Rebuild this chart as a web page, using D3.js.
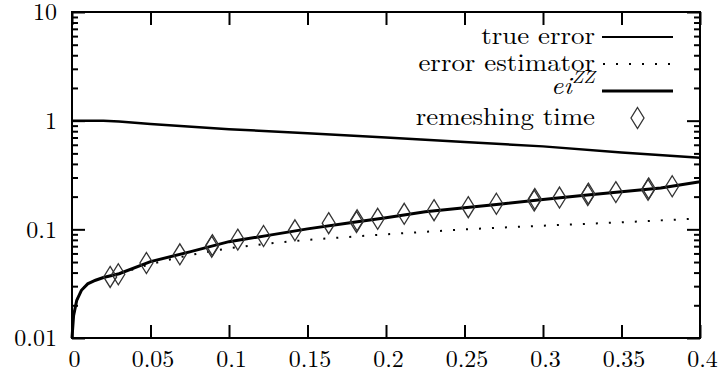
<!DOCTYPE html>
<html>
<head>
<meta charset="utf-8">
<script src="https://cdn.jsdelivr.net/npm/d3@7"></script>
<style>
  body { margin: 0; background: #fff; }
</style>
</head>
<body>
<script>
// error vs time, log scale (gnuplot look)

// --- data ---
const trueErrT   = [0, 0.02, 0.03, 0.05, 0.1, 0.15, 0.2, 0.25, 0.3, 0.35, 0.4];
const trueErrVal = [1.0, 1.0, 0.985, 0.93, 0.835, 0.765, 0.70, 0.637, 0.58, 0.51, 0.455];

const zzT   = [0, 0.001, 0.003, 0.006, 0.01, 0.015, 0.02, 0.03, 0.05, 0.075, 0.1, 0.125, 0.15, 0.175, 0.2, 0.225, 0.25, 0.275, 0.3, 0.325, 0.35, 0.375, 0.4];
const zzVal = [0.01, 0.016, 0.0222, 0.0275, 0.0315, 0.034, 0.036, 0.039, 0.0505, 0.062, 0.077, 0.088, 0.101, 0.114, 0.128, 0.145, 0.158, 0.172, 0.188, 0.205, 0.222, 0.24, 0.274];

const estT   = [0, 0.001, 0.003, 0.006, 0.01, 0.015, 0.02, 0.03, 0.05, 0.075, 0.1, 0.125, 0.15, 0.2, 0.25, 0.3, 0.35, 0.4];
const estVal = [0.01, 0.016, 0.0222, 0.0275, 0.0315, 0.034, 0.036, 0.039, 0.048, 0.058, 0.067, 0.074, 0.080, 0.090, 0.100, 0.108, 0.116, 0.126];

// remeshing times (some are drawn twice, slightly apart)
const remeshT   = [0.0243, 0.0295, 0.0474, 0.0687, 0.0890, 0.0894, 0.1056, 0.122, 0.142, 0.1635, 0.1812, 0.1816, 0.1947, 0.2116, 0.2306, 0.2524, 0.2703, 0.2944, 0.2948, 0.3105, 0.3285, 0.3289, 0.3464, 0.3669, 0.3673, 0.3823];
const remeshVal = [0.0365, 0.0386, 0.049, 0.0589, 0.0692, 0.0715, 0.0804, 0.0868, 0.098, 0.114, 0.117, 0.121, 0.125, 0.139, 0.150, 0.160, 0.172, 0.184, 0.190, 0.196, 0.207, 0.213, 0.220, 0.231, 0.238, 0.249];

const xTicks = [0, 0.05, 0.1, 0.15, 0.2, 0.25, 0.3, 0.35, 0.4];
const xTickLabels = ["0", "0.05", "0.1", "0.15", "0.2", "0.25", "0.3", "0.35", "0.4"];
const yTicks = [0.01, 0.1, 1, 10];
const yTickLabels = ["0.01", "0.1", "1", "10"];

const legendLabels = ["true error", "error estimator", "ei", "remeshing time"];

// Latin Modern is the TeX look of the original
const FONT = "'Latin Modern Roman', 'Liberation Serif', monospace";

// --- layout ---
const W = 723, H = 383;
const margin = {top: 12, right: 23, bottom: 45, left: 72};
const width = W - margin.left - margin.right,
      height = H - margin.top - margin.bottom;

const svg = d3.select("body").append("svg")
  .attr("width", W).attr("height", H);
svg.append("rect").attr("width", W).attr("height", H).attr("fill", "#fff");

const g = svg.append("g")
  .attr("transform", `translate(${margin.left},${margin.top})`);

const x = d3.scaleLinear().domain([0, 0.4]).range([0, width]);
const y = d3.scaleLog().domain([0.01, 10]).range([height, 0]);

// minor ticks 2..9 per decade
const yMinor = [];
for (let d = 0.01; d < 10; d *= 10) {
  for (let k = 2; k <= 9; k++) yMinor.push(d * k);
}

const fmtX = d => xTickLabels[xTicks.indexOf(d)];
const fmtY = d => yTickLabels[yTicks.findIndex(v => Math.abs(v - d) < 1e-9)];

function styleAxis(sel) {
  sel.attr("font-family", null).attr("font-size", null);
  sel.select(".domain").remove();
  sel.selectAll(".tick line").attr("stroke", "#000").attr("stroke-width", 2);
  sel.selectAll(".tick text")
    .style("font-family", FONT).style("font-size", "24px")
    .attr("fill", "#000");
}

// bottom / top
g.append("g").attr("transform", `translate(0,${height})`)
  .call(d3.axisBottom(x).tickValues(xTicks).tickFormat(fmtX).tickSize(-13).tickPadding(12))
  .call(styleAxis)
  .selectAll(".tick text").attr("dx", 2);
g.append("g")
  .call(d3.axisTop(x).tickValues(xTicks).tickFormat("").tickSize(-13))
  .call(styleAxis);

// left / right
g.append("g")
  .call(d3.axisLeft(y).tickValues(yTicks).tickFormat(fmtY).tickSize(-13).tickPadding(15))
  .call(styleAxis)
  .selectAll(".tick text").attr("dy", "0.33em");
g.append("g")
  .call(d3.axisLeft(y).tickValues(yMinor).tickFormat("").tickSize(-6))
  .call(styleAxis);
g.append("g").attr("transform", `translate(${width},0)`)
  .call(d3.axisRight(y).tickValues(yTicks).tickFormat("").tickSize(-13))
  .call(styleAxis);
g.append("g").attr("transform", `translate(${width},0)`)
  .call(d3.axisRight(y).tickValues(yMinor).tickFormat("").tickSize(-6))
  .call(styleAxis);

// frame
g.append("rect")
  .attr("width", width).attr("height", height)
  .attr("fill", "none").attr("stroke", "#000").attr("stroke-width", 2);

// --- curves ---
const line = d3.line().x(d => x(d[0])).y(d => y(d[1]));

g.append("path")
  .datum(d3.zip(trueErrT, trueErrVal))
  .attr("d", line)
  .attr("fill", "none").attr("stroke", "#000").attr("stroke-width", 2.5);

g.append("path")
  .datum(d3.zip(estT, estVal))
  .attr("d", line)
  .attr("fill", "none").attr("stroke", "#000").attr("stroke-width", 2)
  .attr("stroke-dasharray", "2 11");

g.append("path")
  .datum(d3.zip(zzT, zzVal))
  .attr("d", line)
  .attr("fill", "none").attr("stroke", "#000").attr("stroke-width", 3);

// diamonds
const diamond = (cx, cy) => `M${cx},${cy - 10.5}L${cx + 6.5},${cy}L${cx},${cy + 10.5}L${cx - 6.5},${cy}Z`;

g.selectAll(".remesh")
  .data(d3.zip(remeshT, remeshVal))
  .join("path")
  .attr("class", "remesh")
  .attr("d", d => diamond(x(d[0]), y(d[1])))
  .attr("fill", "none").attr("stroke", "#333").attr("stroke-width", 1.3);

// --- legend (absolute coords) ---
const legRight = 595, sx1 = 602, sx2 = 673;
const rowY = [37, 64, 91, 118];
const leg = svg.append("g");

// text is a bit wider than tall in the original, so stretch it a little
function legText(i, dy) {
  return leg.append("text")
    .attr("transform", `translate(${legRight},${rowY[i] + dy}) scale(1.12,1)`)
    .attr("text-anchor", "end")
    .style("font-family", FONT).style("font-size", "24px");
}

legText(0, 7).text(legendLabels[0]);
leg.append("line").attr("x1", sx1).attr("x2", sx2).attr("y1", rowY[0]).attr("y2", rowY[0])
  .attr("stroke", "#000").attr("stroke-width", 2);

legText(1, 7).text(legendLabels[1]);
leg.append("line").attr("x1", sx1 + 1).attr("x2", sx2).attr("y1", rowY[1]).attr("y2", rowY[1])
  .attr("stroke", "#000").attr("stroke-width", 2).attr("stroke-dasharray", "2 11");

const zzLabel = legText(2, 3);
zzLabel.append("tspan").style("font-style", "italic").text(legendLabels[2]);
zzLabel.append("tspan").style("font-style", "italic").style("font-size", "17px")
  .attr("dy", -11).text("ZZ");
leg.append("line").attr("x1", sx1).attr("x2", sx2).attr("y1", rowY[2]).attr("y2", rowY[2])
  .attr("stroke", "#000").attr("stroke-width", 3);

legText(3, 7).text(legendLabels[3]);
leg.append("path").attr("d", diamond((sx1 + sx2) / 2, rowY[3]))
  .attr("fill", "none").attr("stroke", "#333").attr("stroke-width", 1.3);
</script>
</body>
</html>
